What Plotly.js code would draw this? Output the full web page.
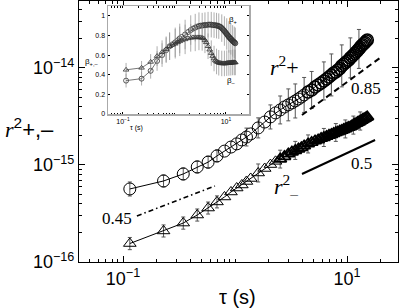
<!DOCTYPE html>
<html>
<head>
<meta charset="utf-8">
<script src="https://cdn.plot.ly/plotly-3.0.1.min.js"></script>
<style>
  html, body { margin: 0; padding: 0; background: #fff; }
  #chart { width: 400px; height: 308px; }
</style>
</head>
<body>
<div id="chart"></div>
<script>
// lag times (s)
var tau = [0.115, 0.23, 0.345, 0.46, 0.575, 0.69, 0.805, 0.92, 1.035, 1.15, 1.265, 1.38,
  1.61, 1.84, 2.07, 2.30, 2.53, 2.76, 2.99, 3.22, 3.45, 3.68, 3.91, 4.14,
  4.49, 4.83, 5.18, 5.52, 5.87, 6.21, 6.56, 6.90, 7.25, 7.59, 7.94, 8.28, 8.63, 8.97, 9.32, 9.66,
  10.01, 10.35, 10.70, 11.04, 11.39, 11.73, 12.08, 12.42, 12.77, 13.11, 13.46, 13.80, 14.15, 14.49, 14.84, 15.18];

// mean square displacements
var r2Plus = [5.66e-16, 6.84e-16, 8.08e-16, 9.54e-16, 1.07e-15, 1.24e-15, 1.39e-15, 1.53e-15, 1.65e-15, 1.81e-15, 1.94e-15, 2.09e-15,
  2.41e-15, 2.77e-15, 3.13e-15, 3.44e-15, 3.69e-15, 3.96e-15, 4.16e-15, 4.36e-15, 4.57e-15, 4.79e-15, 5.02e-15, 5.27e-15,
  5.66e-15, 5.93e-15, 6.37e-15, 6.68e-15, 7.00e-15, 7.35e-15, 7.70e-15, 8.07e-15, 8.47e-15, 8.88e-15, 9.10e-15, 9.53e-15, 9.88e-15, 1.05e-14, 1.09e-14, 1.13e-14,
  1.17e-14, 1.21e-14, 1.27e-14, 1.31e-14, 1.36e-14, 1.41e-14, 1.46e-14, 1.51e-14, 1.57e-14, 1.63e-14, 1.69e-14, 1.73e-14, 1.79e-14, 1.83e-14, 1.90e-14, 1.94e-14];

var r2Minus = [1.55e-16, 2.09e-16, 2.52e-16, 3.05e-16, 3.60e-16, 4.16e-16, 4.68e-16, 5.27e-16, 5.79e-16, 6.22e-16, 6.76e-16, 7.26e-16,
  8.27e-16, 9.20e-16, 1.01e-15, 1.09e-15, 1.15e-15, 1.22e-15, 1.30e-15, 1.36e-15, 1.41e-15, 1.46e-15, 1.51e-15, 1.57e-15,
  1.65e-15, 1.71e-15, 1.77e-15, 1.81e-15, 1.88e-15, 1.92e-15, 1.97e-15, 2.02e-15, 2.06e-15, 2.11e-15, 2.16e-15, 2.19e-15, 2.24e-15, 2.27e-15, 2.32e-15, 2.35e-15,
  2.41e-15, 2.44e-15, 2.47e-15, 2.52e-15, 2.58e-15, 2.65e-15, 2.68e-15, 2.74e-15, 2.77e-15, 2.84e-15, 2.88e-15, 2.94e-15, 2.98e-15, 3.02e-15, 3.09e-15, 3.13e-15];

// error bars (index into tau, upper and lower length)
var r2PlusBarIdx = [0, 1, 2, 3, 4, 5, 10, 12, 14, 16, 18, 20, 23, 25, 29, 32, 37, 42, 48];
var r2PlusBarUp = [1.02e-16, 1.05e-16, 1.24e-16, 1.46e-16, 1.64e-16, 1.90e-16, 4.6e-16, 6.5e-16, 1.03e-15, 1.45e-15,
  1.92e-15, 2.27e-15, 2.71e-15, 3.27e-15, 4.19e-15, 5.47e-15, 6.78e-15, 7.71e-15, 9.23e-15];
var r2PlusBarDown = [0.87e-16, 0.91e-16, 1.07e-16, 1.27e-16, 1.42e-16, 1.65e-16, 3.7e-16, 5.1e-16, 7.8e-16, 1.04e-15,
  1.31e-15, 1.52e-15, 1.79e-15, 2.11e-15, 2.67e-15, 3.32e-15, 4.12e-15, 4.80e-15, 5.81e-15];

var r2MinusBarIdx = [0, 1, 2, 3, 4, 5, 12, 16, 20, 24, 29, 34, 39, 44, 49];
var r2MinusBarUp = [0.24e-16, 0.32e-16, 0.39e-16, 0.47e-16, 0.55e-16, 0.64e-16, 1.97e-16, 2.7e-16, 3.4e-16, 3.9e-16, 4.6e-16, 5.1e-16, 5.6e-16, 6.1e-16, 6.8e-16];
var r2MinusBarDown = [0.21e-16, 0.28e-16, 0.34e-16, 0.41e-16, 0.48e-16, 0.55e-16, 1.59e-16, 2.2e-16, 2.7e-16, 3.2e-16, 3.7e-16, 4.1e-16, 4.5e-16, 5.0e-16, 5.5e-16];

// power-law guides
var fit085Tau = [3.96, 19.7], fit085Val = [3.27e-15, 1.27e-14];
var fit05Tau = [3.96, 17.8], fit05Val = [8.07e-16, 1.81e-15];
var fit045Tau = [0.133, 0.662], fit045Val = [2.98e-16, 6.08e-16];

// inset: local exponents
var betaPlus = [0.34, 0.36, 0.44, 0.54, 0.60, 0.65, 0.69, 0.71, 0.73, 0.75, 0.77, 0.785,
  0.81, 0.835, 0.855, 0.87, 0.88, 0.89, 0.895, 0.90, 0.90, 0.905, 0.905, 0.905,
  0.91, 0.91, 0.91, 0.905, 0.905, 0.905, 0.90, 0.90, 0.895, 0.89, 0.885, 0.875, 0.865, 0.855, 0.845, 0.835,
  0.825, 0.815, 0.805, 0.795, 0.785, 0.78, 0.77, 0.765, 0.76, 0.75, 0.745, 0.74, 0.735, 0.73, 0.725, 0.72];
var betaMinus = [0.45, 0.47, 0.53, 0.59, 0.63, 0.66, 0.69, 0.705, 0.715, 0.73, 0.74, 0.75,
  0.76, 0.77, 0.775, 0.78, 0.78, 0.78, 0.78, 0.78, 0.775, 0.77, 0.75, 0.73,
  0.69, 0.655, 0.62, 0.59, 0.565, 0.545, 0.535, 0.528, 0.522, 0.52, 0.518, 0.515, 0.515, 0.515, 0.515, 0.515,
  0.515, 0.518, 0.518, 0.52, 0.52, 0.52, 0.522, 0.522, 0.522, 0.525, 0.525, 0.525, 0.525, 0.525, 0.525, 0.525];
var betaBarIdx = [0, 1, 2, 3, 4, 5, 6, 8, 10, 12, 14, 16, 18, 20, 22, 24, 26, 28, 30, 32, 35, 38, 41, 44, 47, 50, 53, 55];
var betaPlusBar = [0.07, 0.07, 0.08, 0.10, 0.12, 0.13, 0.14, 0.15, 0.15, 0.15, 0.15, 0.14, 0.14, 0.13, 0.13, 0.13, 0.13, 0.13, 0.13, 0.13,
  0.14, 0.15, 0.16, 0.16, 0.16, 0.16, 0.16, 0.16];
var betaMinusBar = [0.07, 0.07, 0.08, 0.10, 0.12, 0.13, 0.14, 0.15, 0.15, 0.15, 0.14, 0.14, 0.13, 0.13, 0.13, 0.13, 0.13, 0.13, 0.13, 0.13,
  0.13, 0.13, 0.13, 0.13, 0.13, 0.13, 0.13, 0.13];

// tick labels
var tauTicks = [0.1, 10], tauTickText = ['10<sup>\u22121</sup>', '10<sup>1</sup>'];
var r2Ticks = [1e-16, 1e-15, 1e-14], r2TickText = ['10<sup>\u221216</sup>', '10<sup>\u221215</sup>', '10<sup>\u221214</sup>'];
var betaTicks = [0, 0.2, 0.4, 0.6, 0.8, 1], betaTickText = ['0', '0.2', '0.4', '0.6', '0.8', '1'];

function sparse(idx, vals) {
  var a = tau.map(function () { return NaN; });
  idx.forEach(function (k, i) { a[k] = vals[i]; });
  return a;
}

function minorLog(lo, hi) {
  var v = [];
  for (var e = lo; e <= hi; e++) {
    for (var k = 1; k <= 9; k++) v.push(k * Math.pow(10, e));
  }
  return v;
}

// heavier outlines where markers pile up into a solid band
function edgeWidths(from, thin, thick) {
  return tau.map(function (t, i) { return i < from ? thin : thick; });
}

var serif = 'Liberation Serif, Times New Roman, serif';
var sans = 'Liberation Sans, Arial, sans-serif';

var data = [
  {
    x: tau, y: r2Plus, type: 'scatter', mode: 'lines+markers',
    line: {color: '#000', width: 1},
    marker: {symbol: 'circle-open', size: 12, color: '#000', line: {width: edgeWidths(24, 1, 1.5)}},
    error_y: {type: 'data', symmetric: false, array: sparse(r2PlusBarIdx, r2PlusBarUp),
      arrayminus: sparse(r2PlusBarIdx, r2PlusBarDown), color: '#555', thickness: 1, width: 2},
    showlegend: false, hoverinfo: 'none'
  },
  {
    x: tau, y: r2Minus, type: 'scatter', mode: 'lines+markers',
    line: {color: '#000', width: 1},
    marker: {symbol: 'triangle-up-open', size: 11, color: '#000', line: {width: edgeWidths(16, 1, 1.8)}},
    error_y: {type: 'data', symmetric: false, array: sparse(r2MinusBarIdx, r2MinusBarUp),
      arrayminus: sparse(r2MinusBarIdx, r2MinusBarDown), color: '#555', thickness: 1, width: 2},
    showlegend: false, hoverinfo: 'none'
  },
  {
    x: fit085Tau, y: fit085Val, type: 'scatter', mode: 'lines',
    line: {color: '#000', width: 2, dash: '6px,4px'}, showlegend: false, hoverinfo: 'none'
  },
  {
    x: fit05Tau, y: fit05Val, type: 'scatter', mode: 'lines',
    line: {color: '#000', width: 2}, showlegend: false, hoverinfo: 'none'
  },
  {
    x: fit045Tau, y: fit045Val, type: 'scatter', mode: 'lines',
    line: {color: '#000', width: 1.6, dash: '5px,3px,1.5px,3px'}, showlegend: false, hoverinfo: 'none'
  },
  {
    x: tau, y: betaPlus, xaxis: 'x2', yaxis: 'y2', type: 'scatter', mode: 'lines+markers',
    line: {color: '#555', width: 0.8},
    marker: {symbol: 'circle-open', size: 5, color: '#333', line: {width: 0.8}},
    error_y: {type: 'data', array: sparse(betaBarIdx, betaPlusBar), color: '#999', thickness: 0.8, width: 0},
    showlegend: false, hoverinfo: 'none'
  },
  {
    x: tau, y: betaMinus, xaxis: 'x2', yaxis: 'y2', type: 'scatter', mode: 'lines+markers',
    line: {color: '#555', width: 0.8},
    marker: {symbol: 'triangle-up-open', size: 5, color: '#333', line: {width: 0.8}},
    error_y: {type: 'data', array: sparse(betaBarIdx, betaMinusBar), color: '#999', thickness: 0.8, width: 0},
    showlegend: false, hoverinfo: 'none'
  }
];

var X0 = 79, Y0 = 262, W = 319, H = 261;
function px(x) { return (x - X0) / W; }
function py(y) { return (Y0 - y) / H; }

function note(text, x, y, size, family, anchor) {
  return {text: text, xref: 'paper', yref: 'paper', x: px(x), y: py(y),
    xanchor: anchor || 'center', yanchor: 'middle', showarrow: false,
    font: {family: family, size: size, color: '#000'}};
}

var layout = {
  width: 400, height: 308,
  margin: {l: X0, r: 2, t: 1, b: 46},
  paper_bgcolor: '#fff', plot_bgcolor: '#fff',
  font: {family: sans, color: '#000'},
  xaxis: {
    type: 'log', range: [-1.393, 1.455], tickmode: 'array', tickvals: tauTicks, ticktext: tauTickText,
    showgrid: false, zeroline: false, showline: true, linecolor: '#000', linewidth: 1, mirror: 'ticks',
    ticks: 'inside', ticklen: 6, tickcolor: '#000', tickfont: {family: sans, size: 18},
    minor: {tickmode: 'array', tickvals: minorLog(-2, 1), ticks: 'inside', ticklen: 3, tickcolor: '#000', showgrid: false}
  },
  yaxis: {
    type: 'log', range: [-16, -13.31], tickmode: 'array', tickvals: r2Ticks, ticktext: r2TickText,
    showgrid: false, zeroline: false, showline: true, linecolor: '#000', linewidth: 1, mirror: 'ticks',
    ticks: 'inside', ticklen: 6, tickcolor: '#000', tickfont: {family: sans, size: 18},
    minor: {tickmode: 'array', tickvals: minorLog(-16, -14), ticks: 'inside', ticklen: 3, tickcolor: '#000', showgrid: false}
  },
  xaxis2: {
    type: 'log', domain: [px(108), px(249)], anchor: 'y2', range: [-1.29, 1.447],
    tickmode: 'array', tickvals: tauTicks, ticktext: tauTickText,
    showgrid: false, zeroline: false, showline: true, linecolor: '#aaa', linewidth: 1.5,
    mirror: 'ticks', ticks: 'inside', ticklen: 2, tickcolor: '#000', tickfont: {family: sans, size: 7},
    minor: {tickmode: 'array', tickvals: minorLog(-2, 1), ticks: 'inside', ticklen: 1.5, tickcolor: '#000', showgrid: false}
  },
  yaxis2: {
    domain: [py(114), py(6)], anchor: 'x2', range: [0, 1.1],
    tickmode: 'array', tickvals: betaTicks, ticktext: betaTickText,
    showgrid: false, zeroline: false, showline: true, linecolor: '#aaa', linewidth: 1.5,
    mirror: 'ticks', ticks: 'inside', ticklen: 2, tickcolor: '#000', tickfont: {family: sans, size: 7}
  },
  annotations: [
    note('<span style="font-family:Liberation Serif"><i>r</i></span><sup>2</sup>+,\u2013', 3, 128, 22, sans, 'left'),
    note('\u03c4 (s)', 237, 297, 20, sans),
    note('<i>r</i><sup>2</sup>+', 284, 66, 22, serif),
    note('0.85', 366, 88, 17, serif),
    note('0.5', 361, 164, 17, serif),
    note('0.45', 117, 219, 17, serif),
    note('<i>r</i><sup>2</sup><sub>\u2013</sub>', 286, 186, 22, serif),
    note('\u03b2<sub>+,\u2013</sub>', 91, 62, 8, sans),
    note('\u03c4 (s)', 136, 128, 7, sans),
    note('\u03b2<sub>+</sub>', 233, 20, 8, sans),
    note('\u03b2<sub>\u2013</sub>', 231, 81, 8, sans)
  ]
};

Plotly.newPlot('chart', data, layout, {staticPlot: true, displayModeBar: false});
</script>
</body>
</html>
